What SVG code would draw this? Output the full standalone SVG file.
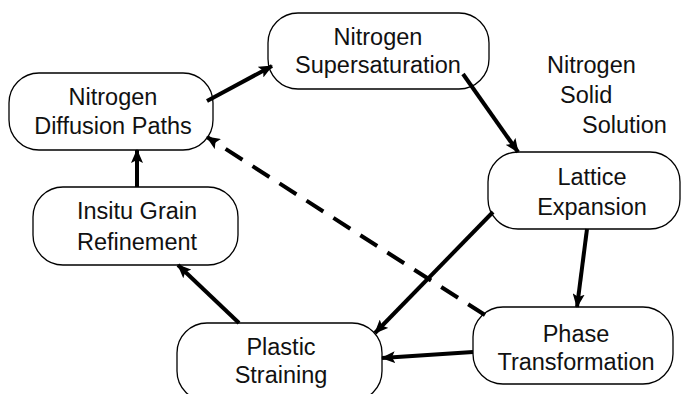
<svg xmlns="http://www.w3.org/2000/svg" width="682" height="394" viewBox="0 0 682 394">
<style>
.node rect{fill:#fff;stroke:#000;stroke-width:1.3}
text{font-family:"Liberation Sans",Arial,sans-serif;font-size:23.5px;fill:#111;text-anchor:middle}
.free{text-anchor:start}
.c{stroke:#000;stroke-width:4;fill:none}
.d{stroke-dasharray:20 12}
</style>
<defs>
<marker id="ah" viewBox="0 0 14 12" refX="13" refY="6" markerWidth="14" markerHeight="12" markerUnits="userSpaceOnUse" orient="auto">
<path d="M0,0 L14,6 L0,12 L3,6 z" fill="#000"/>
</marker>
</defs>
<rect width="682" height="394" fill="#fff"/>
<g id="n-diffusion" class="node">
<rect x="9" y="73" width="204" height="77" rx="30"/>
<text x="113" y="105">Nitrogen</text>
<text x="113" y="134">Diffusion Paths</text>
</g>
<g id="n-supersat" class="node">
<rect x="268" y="13" width="221" height="76" rx="30"/>
<text x="378" y="45">Nitrogen</text>
<text x="378" y="73">Supersaturation</text>
</g>
<g id="n-lattice" class="node">
<rect x="488" y="152" width="192" height="77" rx="30"/>
<text x="592" y="185">Lattice</text>
<text x="592" y="215">Expansion</text>
</g>
<g id="n-insitu" class="node">
<rect x="33" y="187" width="205" height="78" rx="30"/>
<text x="137" y="219">Insitu Grain</text>
<text x="137" y="250">Refinement</text>
</g>
<g id="n-plastic" class="node">
<rect x="177" y="323" width="205" height="78" rx="30"/>
<text x="281" y="355">Plastic</text>
<text x="281" y="383">Straining</text>
</g>
<g id="n-phase" class="node">
<rect x="473" y="307" width="200" height="77" rx="30"/>
<text x="576" y="342">Phase</text>
<text x="576" y="370">Transformation</text>
</g>
<g id="label-solid-solution">
<text class="free" x="547" y="73">Nitrogen</text>
<text class="free" x="560" y="103">Solid</text>
<text class="free" x="582" y="133">Solution</text>
</g>
<g id="connectors">
<line class="c" x1="207" y1="101" x2="272" y2="66" marker-end="url(#ah)"/>
<line class="c" x1="463" y1="74" x2="518" y2="152" marker-end="url(#ah)"/>
<line class="c" x1="587" y1="229" x2="577" y2="307" marker-end="url(#ah)"/>
<line class="c" x1="473" y1="352" x2="382" y2="358" marker-end="url(#ah)"/>
<line class="c" x1="493" y1="212" x2="375" y2="333" marker-end="url(#ah)"/>
<line class="c" x1="239" y1="323" x2="178" y2="265" marker-end="url(#ah)"/>
<line class="c" x1="137" y1="187" x2="137" y2="150" marker-end="url(#ah)"/>
<line class="c d" x1="485" y1="315" x2="207" y2="137" marker-end="url(#ah)"/>
</g>
</svg>
